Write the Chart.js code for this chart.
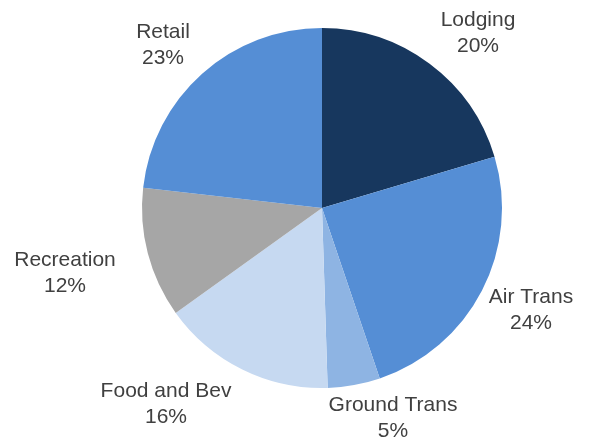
<!DOCTYPE html>
<html>
<head>
<meta charset="utf-8">
<script src="https://cdn.jsdelivr.net/npm/chart.js@4"></script>
<style>
html,body{margin:0;padding:0;background:#fff;}
#c{display:block;}
</style>
</head>
<body>
<canvas id="c" width="593" height="438"></canvas>
<script>
const categories = ["Lodging", "Air Trans", "Ground Trans", "Food and Bev", "Recreation", "Retail"];
const shares = [20.4, 24.4, 4.7, 15.6, 11.7, 23.2];
const sliceColors = ["#17375E", "#558ED5", "#8EB4E3", "#C6D9F1", "#A6A6A6", "#558ED5"];
// label centre offsets from pie centre (px)
const labelOffsets = [[156, -175], [209, 102], [71, 210], [-156, 196], [-257, 65], [-159, -163]];

const labelPlugin = {
  id: 'outLabels',
  afterDatasetsDraw(chart) {
    const ctx = chart.ctx;
    const meta = chart.getDatasetMeta(0);
    const data = chart.data.datasets[0].data;
    const total = data.reduce((a, b) => a + b, 0);
    ctx.save();
    ctx.font = '21px "Liberation Sans", Arial, sans-serif';
    ctx.fillStyle = '#404040';
    ctx.textAlign = 'center';
    ctx.textBaseline = 'middle';
    meta.data.forEach((arc, i) => {
      const cx = arc.x + labelOffsets[i][0];
      const cy = arc.y + labelOffsets[i][1];
      const pct = Math.round(data[i] / total * 100) + '%';
      ctx.fillText(chart.data.labels[i], cx, cy - 13);
      ctx.fillText(pct, cx, cy + 13);
    });
    ctx.restore();
  }
};

new Chart(document.getElementById('c'), {
  type: 'pie',
  data: {
    labels: categories,
    datasets: [{
      data: shares,
      backgroundColor: sliceColors,
      borderWidth: 0,
      hoverOffset: 0
    }]
  },
  options: {
    responsive: false,
    animation: false,
    layout: { padding: { top: 28, bottom: 50, left: 51, right: 0 } },
    plugins: { legend: { display: false }, tooltip: { enabled: false } }
  },
  plugins: [labelPlugin]
});
</script>
</body>
</html>
